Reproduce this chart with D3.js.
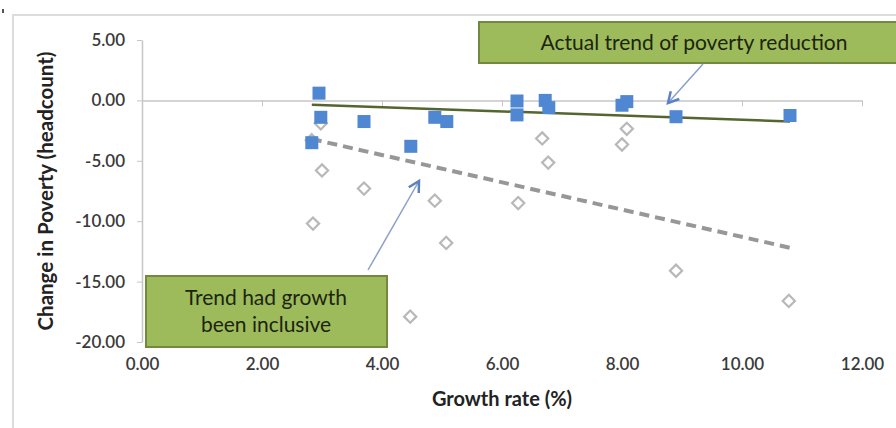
<!DOCTYPE html>
<html>
<head>
<meta charset="utf-8">
<script src="https://cdn.jsdelivr.net/npm/d3@7/dist/d3.min.js"></script>
<style>
  html, body { margin: 0; padding: 0; background: #fff; }
  svg { display: block; }
  text { font-family: Lato, "Open Sans", sans-serif; }
</style>
</head>
<body>
<svg id="chart" width="896" height="428"></svg>
<script>
// Growth rate (%) and change in poverty headcount, observed
const growthRate   = [2.95, 2.98, 2.83, 3.70, 4.48, 4.88, 5.08, 6.25, 6.25, 6.72, 6.78, 8.00, 8.08, 8.90, 10.80];
const actualChange = [0.60, -1.40, -3.50, -1.75, -3.80, -1.40, -1.75, -0.05, -1.20, 0.00, -0.60, -0.40, -0.10, -1.35, -1.25];

// Same growth rates, change in poverty had growth been inclusive
const inclusiveGrowth = [2.85, 3.00, 2.98, 2.83, 3.70, 4.47, 4.88, 5.07, 6.27, 6.67, 6.77, 8.00, 8.08, 8.90, 10.78];
const inclusiveChange = [-10.2, -5.8, -1.9, -3.3, -7.3, -17.9, -8.3, -11.8, -8.5, -3.15, -5.15, -3.65, -2.35, -14.1, -16.6];

// Fitted trend lines (start and end points)
const actualTrendX = [2.83, 10.80];
const actualTrendY = [-0.35, -1.75];
const inclusiveTrendX = [2.83, 10.80];
const inclusiveTrendY = [-3.2, -12.2];

const xTicks = [0, 2, 4, 6, 8, 10, 12];
const yTicks = [5, 0, -5, -10, -15, -20];

const xTitle = "Growth rate (%)";
const yTitle = "Change in Poverty (headcount)";
const actualLabel = "Actual trend of poverty reduction";
const inclusiveLabel = ["Trend had growth", "been inclusive"];

const svg = d3.select("#chart");

// outer chart frame
svg.append("rect").attr("x", 13).attr("y", 15).attr("width", 900).attr("height", 430)
  .attr("fill", "#fff").attr("stroke", "#dcdcdc").attr("stroke-width", 2);
svg.append("rect").attr("x", 2).attr("y", 9).attr("width", 2).attr("height", 4).attr("fill", "#555");

const x = d3.scaleLinear().domain([0, 12]).range([142, 862]);
const y = d3.scaleLinear().domain([-20, 5]).range([342, 40]);
// plain hyphen for negatives
const fmt = v => d3.format(".2f")(v).replace("\u2212", "-");

const tickFont = 17;

// y axis
const yAxis = svg.append("g").attr("transform", `translate(${x(0)},0)`)
  .call(d3.axisLeft(y).tickValues(yTicks).tickFormat(fmt).tickSize(5).tickPadding(12).tickSizeOuter(0));
yAxis.select(".domain").attr("stroke", "#c6c6c6").attr("stroke-width", 1.5);
yAxis.selectAll(".tick line").attr("stroke", "#c6c6c6");
yAxis.selectAll("text").attr("font-size", tickFont).attr("fill", "#3a3a3a").attr("font-weight", 600);

// x axis line at zero
const xAxis = svg.append("g").attr("transform", `translate(0,${y(0)})`)
  .call(d3.axisBottom(x).tickValues(xTicks).tickFormat("").tickSize(6).tickSizeOuter(0));
xAxis.select(".domain").attr("stroke", "#c6c6c6").attr("stroke-width", 1.5);
xAxis.selectAll(".tick line").attr("stroke", "#c6c6c6");

// x tick labels along the bottom
const xLabels = svg.append("g").attr("transform", "translate(0,358)")
  .call(d3.axisBottom(x).tickValues(xTicks).tickFormat(fmt).tickSize(0).tickPadding(0));
xLabels.select(".domain").remove();
xLabels.selectAll("text").attr("font-size", tickFont).attr("fill", "#3a3a3a").attr("font-weight", 600);

// axis titles
svg.append("text").attr("x", (x(0) + x(12)) / 2).attr("y", 406)
  .attr("text-anchor", "middle").attr("font-size", 20).attr("font-weight", "bold").attr("fill", "#222")
  .text(xTitle);
svg.append("text").attr("transform", `translate(53,${(y(5) + y(-20)) / 2}) rotate(-90)`)
  .attr("text-anchor", "middle").attr("font-size", 20.5).attr("font-weight", "bold").attr("fill", "#222")
  .text(yTitle);

// inclusive-growth points (diamonds)
const diamond = d3.symbol().type(d3.symbolDiamond2).size(95);
svg.append("g").selectAll("path").data(d3.range(inclusiveGrowth.length)).join("path")
  .attr("d", diamond)
  .attr("transform", i => `translate(${x(inclusiveGrowth[i])},${y(inclusiveChange[i])})`)
  .attr("fill", "#fff").attr("stroke", "#b8b8b8").attr("stroke-width", 2.2);

// inclusive trend (dashed)
const line = d3.line().x(d => x(d[0])).y(d => y(d[1]));
svg.append("path")
  .attr("d", line(d3.zip(inclusiveTrendX, inclusiveTrendY)))
  .attr("fill", "none").attr("stroke", "#979797").attr("stroke-width", 4)
  .attr("stroke-dasharray", "10,6");

// actual trend (solid)
svg.append("path")
  .attr("d", line(d3.zip(actualTrendX, actualTrendY)))
  .attr("fill", "none").attr("stroke", "#55652f").attr("stroke-width", 2.5);

// observed points (squares)
const sq = 13;
svg.append("g").selectAll("rect").data(d3.range(growthRate.length)).join("rect")
  .attr("x", i => x(growthRate[i]) - sq / 2)
  .attr("y", i => y(actualChange[i]) - sq / 2)
  .attr("width", sq).attr("height", sq)
  .attr("fill", "#4f87d2");

// callout boxes
function callout(bx, by, bw, bh, lines, fontSize, lineGap, cx) {
  svg.append("rect").attr("x", bx).attr("y", by).attr("width", bw).attr("height", bh)
    .attr("fill", "#9dbb5b").attr("stroke", "#72893f").attr("stroke-width", 2);
  const cy = by + bh / 2 - (lines.length - 1) * lineGap / 2;
  lines.forEach((t, k) => {
    svg.append("text").attr("x", cx).attr("y", cy + k * lineGap)
      .attr("dy", "0.35em").attr("text-anchor", "middle")
      .attr("font-size", fontSize).attr("fill", "#1c2410").text(t);
  });
}
callout(479, 22, 440, 41, [actualLabel], 21, 0, 694);
callout(146, 276, 241, 71, inclusiveLabel, 21, 27, 266);

// arrows
function arrow(x1, y1, x2, y2, color) {
  svg.append("line").attr("x1", x1).attr("y1", y1).attr("x2", x2).attr("y2", y2)
    .attr("stroke", "#8aa0c8").attr("stroke-width", 1.5);
  const ang = Math.atan2(y2 - y1, x2 - x1);
  const len = 12, spread = 0.5;
  const p = a => [x2 - len * Math.cos(ang + a), y2 - len * Math.sin(ang + a)];
  const [ax, ay] = p(spread), [bx2, by2] = p(-spread);
  svg.append("path").attr("d", `M${ax},${ay}L${x2},${y2}L${bx2},${by2}`)
    .attr("fill", "none").attr("stroke", color).attr("stroke-width", 2.5)
    .attr("stroke-linejoin", "miter");
}
arrow(703, 64, 668, 103, "#5b82c2");
arrow(368, 270, 419, 181, "#5b82c2");
</script>
</body>
</html>
